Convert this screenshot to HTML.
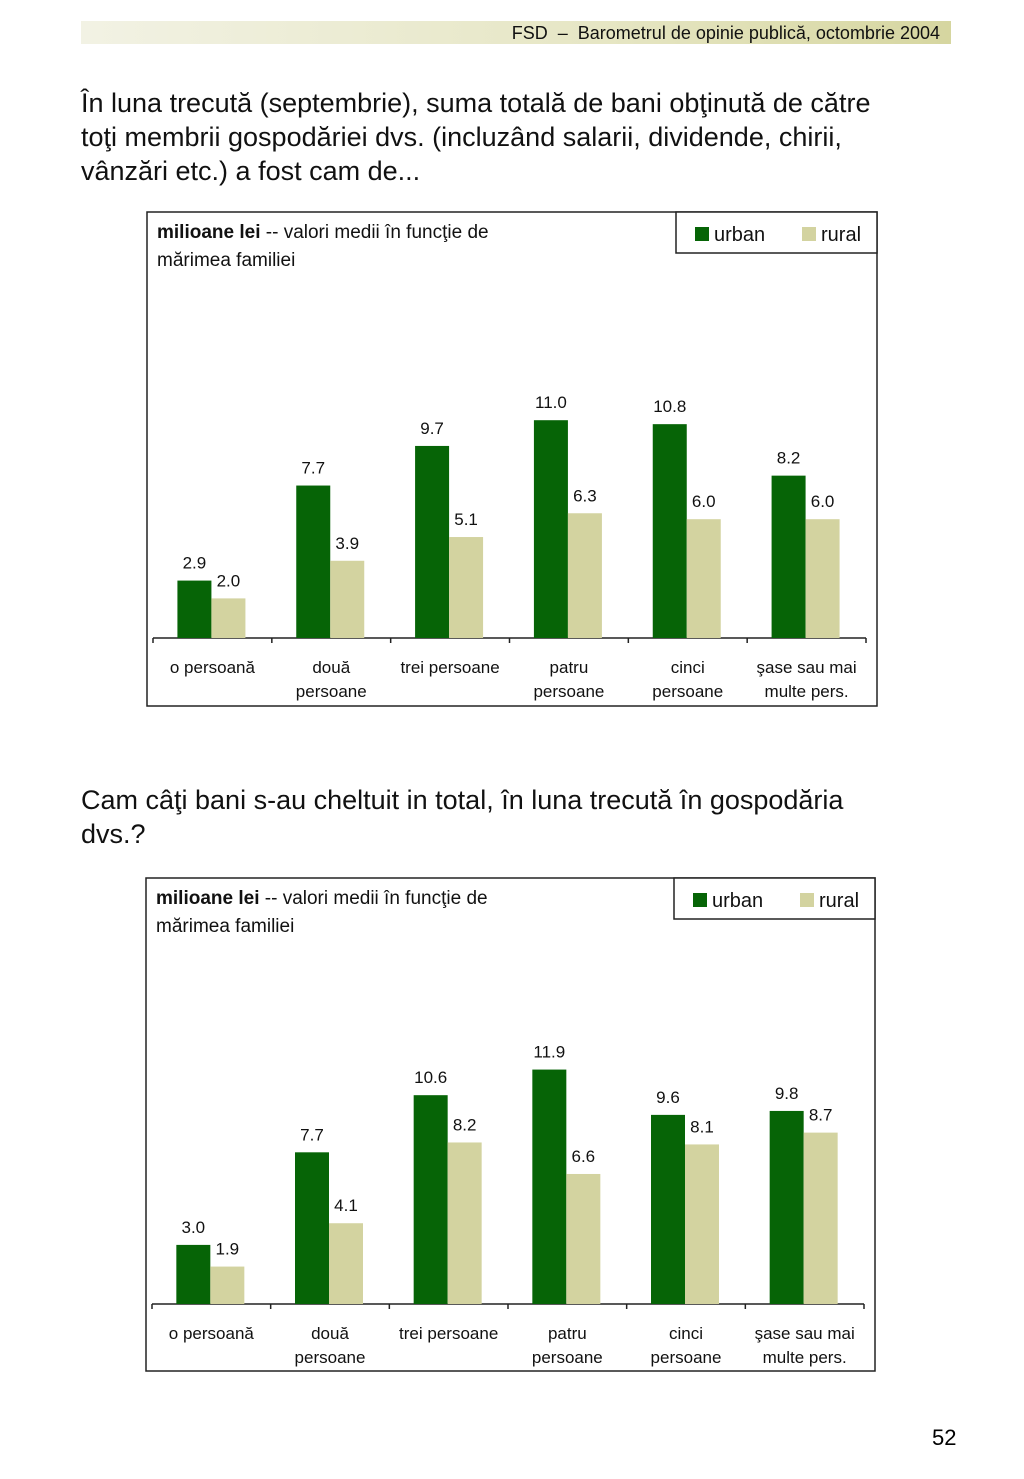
<!DOCTYPE html>
<html><head><meta charset="utf-8"><style>
body{margin:0;background:#fff;font-family:"Liberation Sans",sans-serif;}
#page{position:relative;width:1024px;height:1479px;overflow:hidden;background:#fff;}
.hdr{position:absolute;left:81px;top:21px;width:870px;height:23px;background:linear-gradient(to right,#f2f2e4,#e6e6c4 60%,#d6d6a0);}
.hdr span{position:absolute;right:11px;top:2px;font-size:18px;color:#111;}
.q{position:absolute;left:81px;font-size:27px;line-height:34px;color:#111;}
.pn{position:absolute;left:932px;top:1425px;font-size:22px;}
</style></head><body>
<div id="page">
<div class="hdr"><span>FSD &nbsp;–&nbsp; Barometrul de opinie publică, octombrie 2004</span></div>
<div class="q" style="top:86px">În luna trecută (septembrie), suma totală de bani obţinută de către<br>toţi membrii gospodăriei dvs. (incluzând salarii, dividende, chirii,<br>vânzări etc.) a fost cam de...</div>
<div class="q" style="top:783px">Cam câţi bani s-au cheltuit in total, în luna trecută în gospodăria<br>dvs.?</div>
<svg id="c1" style="position:absolute;left:0;top:0" width="1024" height="1479"></svg>
<div class="pn">52</div>
</div>
<script>
const categories1=["o persoană|","două|persoane","trei persoane|","patru|persoane","cinci|persoane","şase sau mai|multe pers."];
const urban1=[2.9,7.7,9.7,11.0,10.8,8.2];
const rural1=[2.0,3.9,5.1,6.3,6.0,6.0];
const urban2=[3.0,7.7,10.6,11.9,9.6,9.8];
const rural2=[1.9,4.1,8.2,6.6,8.1,8.7];
const svg=document.getElementById('c1');
const NS="http://www.w3.org/2000/svg";
function mk(t,a,txt){const e=document.createElementNS(NS,t);for(const k in a)e.setAttribute(k,a[k]);if(txt!==undefined)e.textContent=txt;svg.appendChild(e);return e;}
function chart(fx,fy,fw,fh,base,scale,urban,rural,id){
  let e=mk('rect',{x:fx,y:fy,width:fw,height:fh,fill:'none',stroke:'#222','stroke-width':1.5});
  
  let t=mk('text',{x:fx+10,y:fy+26,'font-size':19,fill:'#111'});
  t.innerHTML='<tspan font-weight="bold">milioane lei</tspan> -- valori medii în funcţie de';
  
  t=mk('text',{x:fx+10,y:fy+54,'font-size':19,fill:'#111'},'mărimea familiei');
  
  // legend
  const lx=fx+fw-201;
  e=mk('rect',{x:lx,y:fy,width:201,height:41,fill:'#fff',stroke:'#222','stroke-width':1.5});
  
  e=mk('rect',{x:lx+19,y:fy+15,width:14,height:14,fill:'#066406'});
  
  e=mk('text',{x:lx+38,y:fy+29,'font-size':20,fill:'#111'},'urban');
  
  e=mk('rect',{x:lx+126,y:fy+15,width:14,height:14,fill:'#d3d3a0'});
  
  e=mk('text',{x:lx+145,y:fy+29,'font-size':20,fill:'#111'},'rural');
  
  const ax0=fx+6,ax1=fx+fw-11,gw=(ax1-ax0)/categories1.length;
  e=mk('line',{x1:ax0,y1:base,x2:ax1,y2:base,stroke:'#222','stroke-width':1.5});
  
  for(let i=0;i<=categories1.length;i++){
    e=mk('line',{x1:ax0+i*gw,y1:base,x2:ax0+i*gw,y2:base+5,stroke:'#222','stroke-width':1.5});
    
  }
  categories1.forEach((c,i)=>{
    const cx=ax0+(i+0.5)*gw;
    const [u,r]=[urban[i],rural[i]];
    const hu=u*scale,hr=r*scale;
    e=mk('rect',{x:cx-35,y:base-hu,width:34,height:hu,fill:'#066406'});
    
    e=mk('rect',{x:cx-1,y:base-hr,width:34,height:hr,fill:'#d3d3a0'});
    
    e=mk('text',{x:cx-18,y:base-hu-12,'font-size':17,'text-anchor':'middle',fill:'#111'},u.toFixed(1));
    
    e=mk('text',{x:cx+16,y:base-hr-12,'font-size':17,'text-anchor':'middle',fill:'#111'},r.toFixed(1));
    
    const ls=c.split('|');
    ls.forEach((l,j)=>{if(!l)return;
      e=mk('text',{x:cx,y:base+35+j*24,'font-size':17,'text-anchor':'middle',fill:'#111'},l);
      });
  });
}
chart(147,212,730,494,638,19.8,urban1,rural1,'chart1');
chart(146,878,729,493,1304,19.7,urban2,rural2,'chart2');
</script>
</body></html>
